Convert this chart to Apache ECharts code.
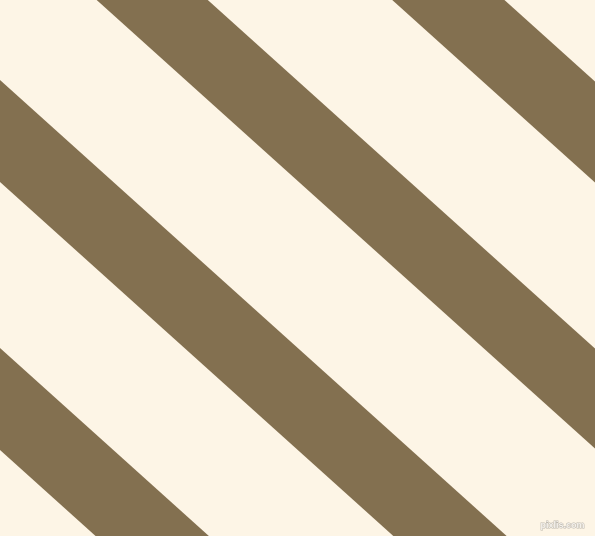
<!DOCTYPE html>
<html>
<head>
<meta charset="utf-8">
<script src="https://cdn.jsdelivr.net/npm/echarts@6/dist/echarts.min.js"></script>
<style>
html,body{margin:0;padding:0;background:#FDF5E6;}
#chart{width:595px;height:536px;}
</style>
</head>
<body>
<div id="chart"></div>
<script>
// Stripe boundaries: y-intercept (at x = 0) of each stripe's upper and lower edge
const stripeNames = ['A', 'B', 'C', 'D'];
const stripeUpper = [-454, -187, 80, 348];
const stripeLower = [-353, -87, 182, 450];
const stripeSlope = 0.9; // dy/dx in pixel-value units

const chart = echarts.init(document.getElementById('chart'), null, {renderer: 'canvas'});

const data = stripeNames.map((n, i) => [stripeUpper[i], stripeLower[i]]);

chart.setOption({
  backgroundColor: '#FDF5E6',
  animation: false,
  grid: {left: 0, right: 0, top: 0, bottom: 0},
  xAxis: {type: 'value', min: 0, max: 595, show: false},
  yAxis: {type: 'value', min: 0, max: 536, inverse: true, show: false},
  series: [{
    type: 'custom',
    clip: true,
    data: data,
    renderItem: function (params, api) {
      const up = api.value(0), lo = api.value(1);
      const x0 = -60, x1 = 655;
      const pts = [
        api.coord([x0, up + stripeSlope * x0]),
        api.coord([x1, up + stripeSlope * x1]),
        api.coord([x1, lo + stripeSlope * x1]),
        api.coord([x0, lo + stripeSlope * x0])
      ];
      return {
        type: 'polygon',
        shape: {points: pts},
        style: {fill: '#837050'}
      };
    }
  }],
  graphic: [{
    type: 'text',
    right: 10,
    bottom: 5,
    style: {
      text: 'pixlis.com',
      font: 'bold 9px "Liberation Sans", sans-serif',
      fill: '#f4f1ec',
      stroke: '#bdb8ae',
      lineWidth: 1
    }
  }]
});
</script>
</body>
</html>
